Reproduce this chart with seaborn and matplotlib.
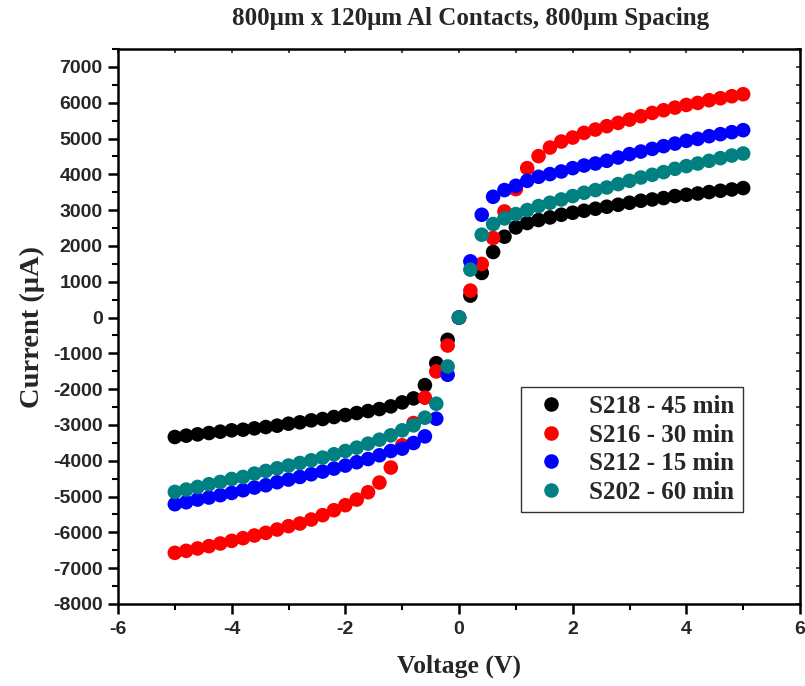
import numpy as np
import pandas as pd
import matplotlib
matplotlib.use("Agg")
import matplotlib.pyplot as plt
import seaborn as sns
from matplotlib.ticker import MultipleLocator

voltage = [-5.0, -4.8, -4.6, -4.4, -4.2, -4.0, -3.8, -3.6, -3.4, -3.2,
           -3.0, -2.8, -2.6, -2.4, -2.2, -2.0, -1.8, -1.6, -1.4, -1.2,
           -1.0, -0.8, -0.6, -0.4, -0.2, 0.0, 0.2, 0.4, 0.6, 0.8,
           1.0, 1.2, 1.4, 1.6, 1.8, 2.0, 2.2, 2.4, 2.6, 2.8,
           3.0, 3.2, 3.4, 3.6, 3.8, 4.0, 4.2, 4.4, 4.6, 4.8, 5.0]

s218 = [-3336, -3299, -3262, -3225, -3187, -3150, -3132, -3095, -3058, -3020,
        -2964, -2927, -2871, -2834, -2778, -2723, -2667, -2611, -2555, -2481,
        -2370, -2258, -1887, -1274, -622, 0, 613, 1246, 1831, 2258,
        2518, 2640, 2723, 2796, 2871, 2927, 2983, 3039, 3095, 3150,
        3206, 3262, 3298, 3337, 3393, 3429, 3465, 3504, 3541, 3577, 3616]

s216 = [-6571, -6515, -6449, -6384, -6310, -6236, -6161, -6087, -6013, -5920,
        -5827, -5752, -5641, -5520, -5381, -5241, -5083, -4879, -4609, -4190,
        -3568, -2946, -2239, -1505, -781, 0, 753, 1497, 2222, 2964,
        3587, 4173, 4508, 4748, 4915, 5027, 5158, 5250, 5344, 5436,
        5528, 5623, 5715, 5790, 5863, 5938, 5994, 6069, 6125, 6181, 6237]

s212 = [-5213, -5158, -5083, -5027, -4962, -4898, -4823, -4748, -4684, -4600,
        -4525, -4452, -4377, -4302, -4218, -4134, -4042, -3951, -3847, -3727,
        -3661, -3504, -3318, -2825, -1598, 0, 1570, 2871, 3373, 3560,
        3680, 3819, 3931, 4006, 4079, 4173, 4246, 4302, 4377, 4469,
        4564, 4636, 4711, 4787, 4859, 4935, 4990, 5065, 5121, 5177, 5233]

s202 = [-4870, -4804, -4731, -4656, -4591, -4508, -4452, -4358, -4284, -4210,
        -4134, -4062, -3987, -3911, -3819, -3727, -3633, -3522, -3411, -3290,
        -3150, -3011, -2797, -2407, -1366, 0, 1338, 2314, 2612, 2769,
        2890, 3002, 3114, 3206, 3298, 3393, 3485, 3560, 3633, 3727,
        3819, 3911, 3987, 4062, 4154, 4229, 4302, 4377, 4452, 4525, 4581]

series_names = ["S218 - 45 min", "S216 - 30 min", "S212 - 15 min", "S202 - 60 min"]
series_values = [s218, s216, s212, s202]
colors = ["#000000", "#ff0000", "#0000ff", "#008080"]

frames = []
for name, vals in zip(series_names, series_values):
    frames.append(pd.DataFrame({"Voltage": voltage, "Current": vals, "Sample": name}))
df = pd.concat(frames, ignore_index=True)

sns.set_style("white")
plt.rcParams["font.family"] = ["Liberation Serif", "DejaVu Serif"]

fig = plt.figure(figsize=(8.05, 6.86), dpi=100)
ax = fig.add_axes([118 / 805, 82 / 686, 682 / 805, 555 / 686])

sns.scatterplot(data=df, x="Voltage", y="Current", hue="Sample",
                hue_order=series_names, palette=colors, s=110,
                linewidth=0, edgecolor="none", ax=ax, legend=True)

ax.set_xlim(-6, 6)
ax.set_ylim(-8000, 7500)
ax.xaxis.set_major_locator(MultipleLocator(2))
ax.xaxis.set_minor_locator(MultipleLocator(1))
ax.set_yticks(np.arange(-8000, 7001, 1000))
ax.yaxis.set_minor_locator(MultipleLocator(500))

for sp in ax.spines.values():
    sp.set_linewidth(1.8)
    sp.set_color("black")

ax.tick_params(which="major", direction="out", length=7, width=1.8,
               bottom=True, left=True, color="black")
ax.tick_params(which="minor", direction="out", length=4, width=1.5,
               bottom=True, left=True, color="black")

# small inward ticks on the top and right frame
sec_x = ax.secondary_xaxis("top")
sec_x.xaxis.set_major_locator(MultipleLocator(1))
sec_x.tick_params(direction="in", length=3, width=1.2, labeltop=False)
sec_x.spines["top"].set_visible(False)
sec_y = ax.secondary_yaxis("right")
sec_y.yaxis.set_major_locator(MultipleLocator(500))
sec_y.tick_params(direction="in", length=3, width=1.2, labelright=False)
sec_y.spines["right"].set_visible(False)

tick_font = {"family": "Liberation Sans", "weight": "bold", "size": 14}
ax.set_xticklabels([f"{int(t)}" for t in ax.get_xticks()], fontdict=tick_font)
ax.set_yticklabels([f"{int(t)}" for t in ax.get_yticks()], fontdict=tick_font)
ax.tick_params(axis="x", pad=5)
ax.tick_params(axis="y", pad=4)

ax.set_xlabel("Voltage (V)", fontsize=18.5, fontweight="bold", labelpad=12)
ax.set_ylabel("Current (\u03bcA)", fontsize=20.5, fontweight="bold", labelpad=6)
fig.text(0.584, 0.99, "800\u03bcm x 120\u03bcm Al Contacts, 800\u03bcm Spacing",
         ha="center", va="top", fontsize=18, fontweight="bold")

handles, labels = ax.get_legend_handles_labels()
leg = ax.legend(handles, labels, loc="upper left", bbox_to_anchor=(0.591, 0.391),
                borderaxespad=0, frameon=True, fancybox=False, edgecolor="black",
                prop={"family": "Liberation Serif", "weight": "bold", "size": 18},
                handletextpad=0.65, labelspacing=0.22, markerscale=1.0,
                borderpad=0.33, handlelength=1.75)
leg.get_frame().set_linewidth(1.0)

fig.savefig("out.png", dpi=100)
